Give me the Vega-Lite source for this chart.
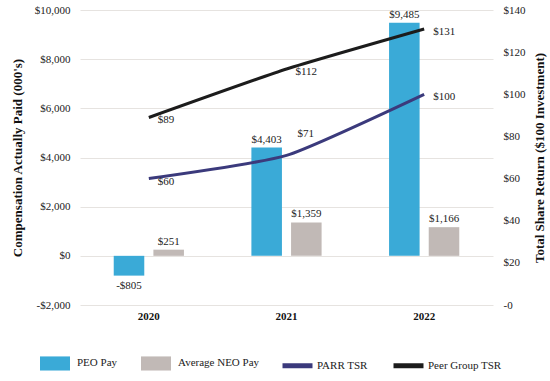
{
  "$schema": "https://vega.github.io/schema/vega-lite/v6.json",
  "width": 413,
  "height": 295,
  "autosize": {"type": "none"},
  "padding": {"left": 80, "top": 10, "right": 57, "bottom": 76},
  "background": "#ffffff",
  "config": {
    "font": "Liberation Serif",
    "text": {"font": "Liberation Serif"},
    "view": {"stroke": null},
    "axis": {"labelFont": "Liberation Serif", "titleFont": "Liberation Serif", "labelColor": "#222222", "titleColor": "#111111"}
  },
  "datasets": {
    "pay": [
      {"year": "2020", "series": "PEO Pay", "value": -805},
      {"year": "2020", "series": "Average NEO Pay", "value": 251},
      {"year": "2021", "series": "PEO Pay", "value": 4403},
      {"year": "2021", "series": "Average NEO Pay", "value": 1359},
      {"year": "2022", "series": "PEO Pay", "value": 9485},
      {"year": "2022", "series": "Average NEO Pay", "value": 1166}
    ],
    "tsr": [
      {"year": "2020", "series": "PARR TSR", "value": 60},
      {"year": "2021", "series": "PARR TSR", "value": 71},
      {"year": "2022", "series": "PARR TSR", "value": 100},
      {"year": "2020", "series": "Peer Group TSR", "value": 89},
      {"year": "2021", "series": "Peer Group TSR", "value": 112},
      {"year": "2022", "series": "Peer Group TSR", "value": 131}
    ]
  },
  "encoding": {
    "x": {
      "field": "year",
      "type": "nominal",
      "scale": {"paddingInner": 0.49, "paddingOuter": 0.245},
      "axis": {"title": null, "labelAngle": 0, "labelFontWeight": "bold", "labelFontSize": 11, "labelColor": "#111111", "domain": false, "ticks": false, "labelPadding": 5, "grid": false}
    }
  },
  "layer": [
    {
      "data": {"name": "pay"},
      "encoding": {
        "y": {
          "field": "value",
          "type": "quantitative",
          "scale": {"domain": [-2000, 10000], "nice": false},
          "axis": {
            "title": "Compensation Actually Paid (000's)",
            "titleFontSize": 13,
            "titleFontWeight": "bold",
            "titlePadding": 10,
            "values": [-2000, 0, 2000, 4000, 6000, 8000, 10000],
            "labelExpr": "datum.value < 0 ? '-$' + format(-datum.value, ',') : '$' + format(datum.value, ',')",
            "labelFontSize": 11,
            "labelPadding": 10,
            "domain": false,
            "ticks": false,
            "grid": true,
            "gridColor": "#e6e3e0"
          }
        },
        "xOffset": {"field": "series", "type": "nominal", "sort": ["PEO Pay", "Average NEO Pay"], "scale": {"paddingInner": 0.23, "paddingOuter": 0}},
        "color": {
          "field": "series",
          "type": "nominal",
          "sort": ["PEO Pay", "Average NEO Pay"],
          "scale": {"domain": ["PEO Pay", "Average NEO Pay"], "range": ["#3aaad7", "#c1b9b6"]},
          "legend": {
            "title": null,
            "orient": "none",
            "direction": "horizontal",
            "legendX": -40,
            "legendY": 338,
            "symbolType": "M-1,-0.47H1V0.47H-1Z",
            "symbolSize": 900,
            "symbolStrokeWidth": 0,
            "labelFont": "Liberation Serif",
            "labelFontSize": 11,
            "labelColor": "#222222",
            "labelOffset": 7,
            "columnPadding": 23
          }
        }
      },
      "layer": [
        {"mark": {"type": "bar"}},
        {
          "transform": [{"filter": "datum.value >= 0"}],
          "mark": {"type": "text", "baseline": "bottom", "dy": -3, "fontSize": 11, "font": "Liberation Serif", "color": "#222222", "text": {"expr": "'$' + format(datum.value, ',')"}},
          "encoding": {"color": {"value": "#222222"}}
        },
        {
          "transform": [{"filter": "datum.value < 0"}],
          "mark": {"type": "text", "baseline": "top", "dy": 4, "fontSize": 11, "font": "Liberation Serif", "color": "#222222", "text": {"expr": "'-$' + format(-datum.value, ',')"}},
          "encoding": {"color": {"value": "#222222"}}
        }
      ]
    },
    {
      "data": {"name": "tsr"},
      "encoding": {
        "y": {
          "field": "value",
          "type": "quantitative",
          "scale": {"domain": [0, 140], "nice": false},
          "axis": {
            "orient": "right",
            "title": "Total Share Return ($100 Investment)",
            "titleFontSize": 13,
            "titleFontWeight": "bold",
            "titleAngle": -90,
            "titleBaseline": "top",
            "titlePadding": 8,
            "values": [0, 20, 40, 60, 80, 100, 120, 140],
            "labelExpr": "datum.value == 0 ? '-0' : '$' + datum.value",
            "labelFontSize": 11,
            "labelPadding": 10,
            "domain": false,
            "ticks": false,
            "grid": false
          }
        }
      },
      "layer": [
        {
          "mark": {"type": "line", "interpolate": "cardinal", "tension": 0.5, "strokeWidth": 3},
          "encoding": {
            "stroke": {
              "field": "series",
              "type": "nominal",
              "scale": {"domain": ["PARR TSR", "Peer Group TSR"], "range": ["#3b3a7c", "#1c1c1c"]},
              "legend": {
                "title": null,
                "orient": "none",
                "direction": "horizontal",
                "legendX": 200,
                "legendY": 338,
                "symbolType": "stroke",
                "symbolSize": 900,
                "symbolStrokeWidth": 5,
                "labelFont": "Liberation Serif",
                "labelFontSize": 11,
                "labelColor": "#222222",
                "labelOffset": 2,
                "columnPadding": 15
              }
            }
          }
        },
        {
          "transform": [{"filter": "!(datum.series == 'PARR TSR' && datum.year == '2021')"}],
          "mark": {"type": "text", "align": "left", "baseline": "middle", "dx": 9, "dy": 3, "fontSize": 11, "font": "Liberation Serif", "color": "#222222", "text": {"expr": "'$' + datum.value"}}
        },
        {
          "transform": [{"filter": "datum.series == 'PARR TSR' && datum.year == '2021'"}],
          "mark": {"type": "text", "align": "left", "baseline": "middle", "dx": 11, "dy": -21, "fontSize": 11, "font": "Liberation Serif", "color": "#222222", "text": {"expr": "'$' + datum.value"}}
        }
      ]
    }
  ],
  "resolve": {"scale": {"y": "independent"}}
}
